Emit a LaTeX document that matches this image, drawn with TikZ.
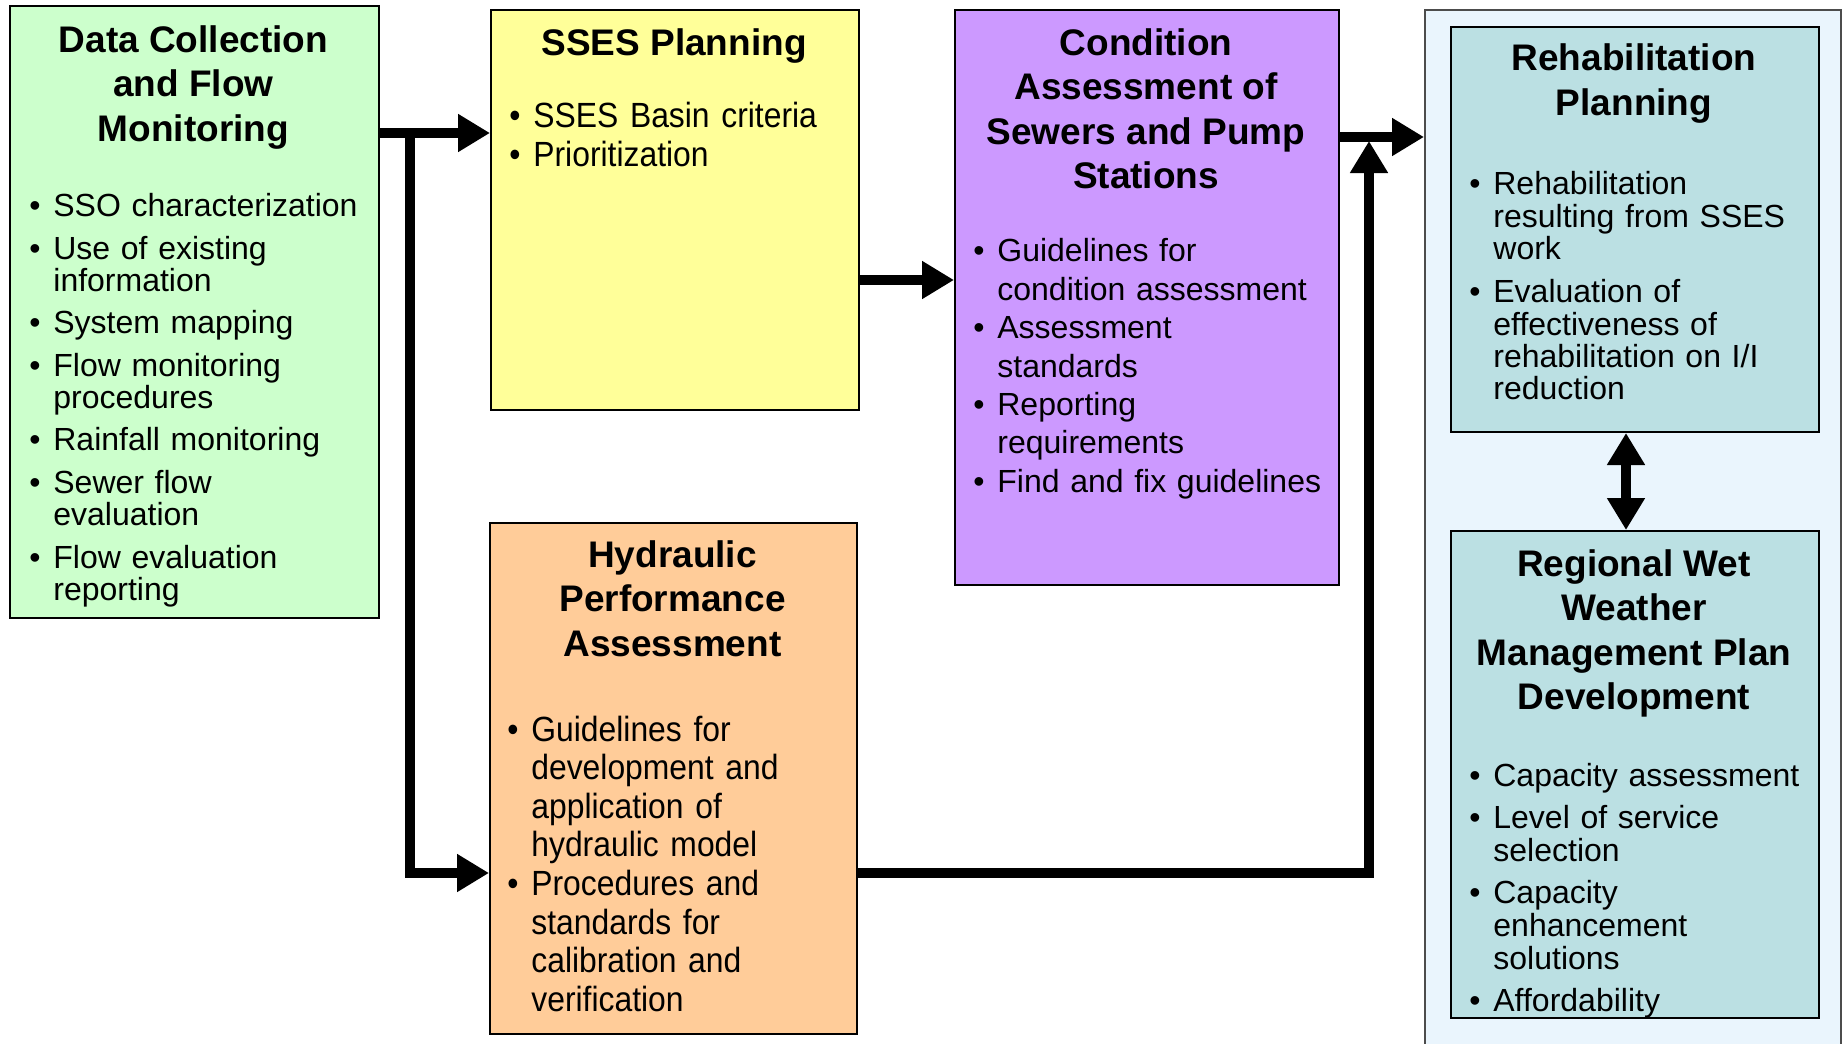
\documentclass[tikz,border=0pt]{standalone}
\usepackage{fontspec}
\setmainfont{Liberation Sans}
\newfontfamily\condfont[FakeStretch=0.91]{Liberation Sans}
\usetikzlibrary{arrows.meta,calc}
\definecolor{cgreen}{HTML}{CCFFCC}
\definecolor{cyellow}{HTML}{FFFF99}
\definecolor{cpurple}{HTML}{CC99FF}
\definecolor{corange}{HTML}{FFCC99}
\definecolor{cteal}{HTML}{BBE0E3}
\definecolor{couter}{HTML}{EAF5FD}
\newcommand\bl{\par\noindent\llap{\makebox[12pt][l]{\textbullet}}}
\newcommand\lsetup{\leftskip=12pt\parskip=0pt\relax}
\tikzset{
  box/.style={draw=black, line width=1pt, inner sep=0pt, anchor=north west},
  ttl/.style={font=\bfseries\fontsize{18.5}{22.2}\selectfont, align=center, anchor=north, inner sep=0pt},
  body/.style={anchor=north west, inner sep=0pt, text width=200pt, align=left},
  arr/.style={line width=4.75pt, -{Triangle[length=16pt,width=18pt]}, line join=miter},
  dblarr/.style={line width=4.75pt, {Triangle[length=16pt,width=18pt]}-{Triangle[length=16pt,width=18pt]}},
}
\begin{document}
\begin{tikzpicture}[x=0.5pt,y=-0.5pt]
\useasboundingbox (0,0) rectangle (1842,1044);
\clip (0,0) rectangle (1842,1044);
\fill[white] (0,0) rectangle (1842,1044);

% boxes
\node[box, fill=cgreen, minimum width=184.5pt, minimum height=306pt] (green) at (9,5) {};
\node[box, fill=cyellow, minimum width=184pt, minimum height=200pt] (yellow) at (490,9) {};
\node[box, fill=cpurple, minimum width=192pt, minimum height=287.5pt] (purple) at (954,9) {};
\node[box, fill=corange, minimum width=183.5pt, minimum height=255.5pt] (orange) at (489,522) {};
\node[box, draw=black!70, fill=couter, minimum width=208pt, minimum height=530pt] (outer) at (1424,9) {};
\node[box, fill=cteal, minimum width=184pt, minimum height=202.5pt] (rehab) at (1450,26) {};
\node[box, fill=cteal, minimum width=184pt, minimum height=243.5pt] (regional) at (1450,530) {};

% titles
\node[ttl] (greenT) at (193.5,25) {Data Collection\\and Flow\\Monitoring};
\node[ttl] (yellowT) at (674,28) {SSES Planning};
\node[ttl] (purpleT) at (1146,28) {Condition\\Assessment of\\Sewers and Pump\\Stations};
\node[ttl] (orangeT) at (672.5,540) {Hydraulic\\Performance\\Assessment};
\node[ttl] (rehabT) at (1634,43.5) {Rehabilitation\\Planning};
\node[ttl] (regionalT) at (1634,549) {Regional Wet\\Weather\\Management Plan\\Development};

% bodies
\node[body, font=\fontsize{16}{16}\selectfont] (greenB) at (29,184) {\lsetup
\bl SSO characterization\\[5.3pt]
\bl Use of existing\\ information\\[5.3pt]
\bl System mapping\\[5.3pt]
\bl Flow monitoring\\ procedures\\[5.3pt]
\bl Rainfall monitoring\\[5.3pt]
\bl Sewer flow\\ evaluation\\[5.3pt]
\bl Flow evaluation\\ reporting\par};

\node[body, font=\condfont\fontsize{17.5}{19.4}\selectfont] (yellowB) at (509,88) {\lsetup
\bl SSES Basin criteria\\
\bl Prioritization\par};

\node[body, font=\fontsize{16}{19.2}\selectfont] (purpleB) at (973,223) {\lsetup
\bl Guidelines for\\ condition assessment\\
\bl Assessment\\ standards\\
\bl Reporting\\ requirements\\
\bl Find and fix guidelines\par};

\node[body, font=\condfont\fontsize{17.5}{19.3}\selectfont] (orangeB) at (507,702) {\lsetup
\bl Guidelines for\\ development and\\ application of\\ hydraulic model\\
\bl Procedures and\\ standards for\\ calibration and\\ verification\par};

\node[body, font=\fontsize{16}{16.15}\selectfont] (rehabB) at (1469,162) {\lsetup
\bl Rehabilitation\\ resulting from SSES\\ work\\[5.6pt]
\bl Evaluation of\\ effectiveness of\\ rehabilitation on I/I\\ reduction\par};

\node[body, font=\fontsize{16}{16.45}\selectfont] (regionalB) at (1469,753) {\lsetup
\bl Capacity assessment\\[4.7pt]
\bl Level of service\\ selection\\[4.7pt]
\bl Capacity\\ enhancement\\ solutions\\[4.7pt]
\bl Affordability\par};

% connectors
\coordinate (j1) at (410,133);
\coordinate (j2) at (410,873);
\coordinate (j3) at (1369,137);
\coordinate (j4) at (1369,873);
\coordinate (j5) at (1369,141);
\coordinate (j6) at (0,280);
\draw[arr] (green.east |- j1) -- (yellow.west |- j1);
\draw[arr] (j1) -- (j2) -- (orange.west |- j2);
\draw[arr] (yellow.east |- j6) -- (purple.west |- j6);
\draw[arr] (purple.east |- j3) -- (outer.west |- j3);
\draw[arr] (orange.east |- j4) -- (j4) -- (j5);
\draw[dblarr] ($(rehab.south)+(-9,0)$) -- ($(regional.north)+(-9,0)$);
\end{tikzpicture}
\end{document}
